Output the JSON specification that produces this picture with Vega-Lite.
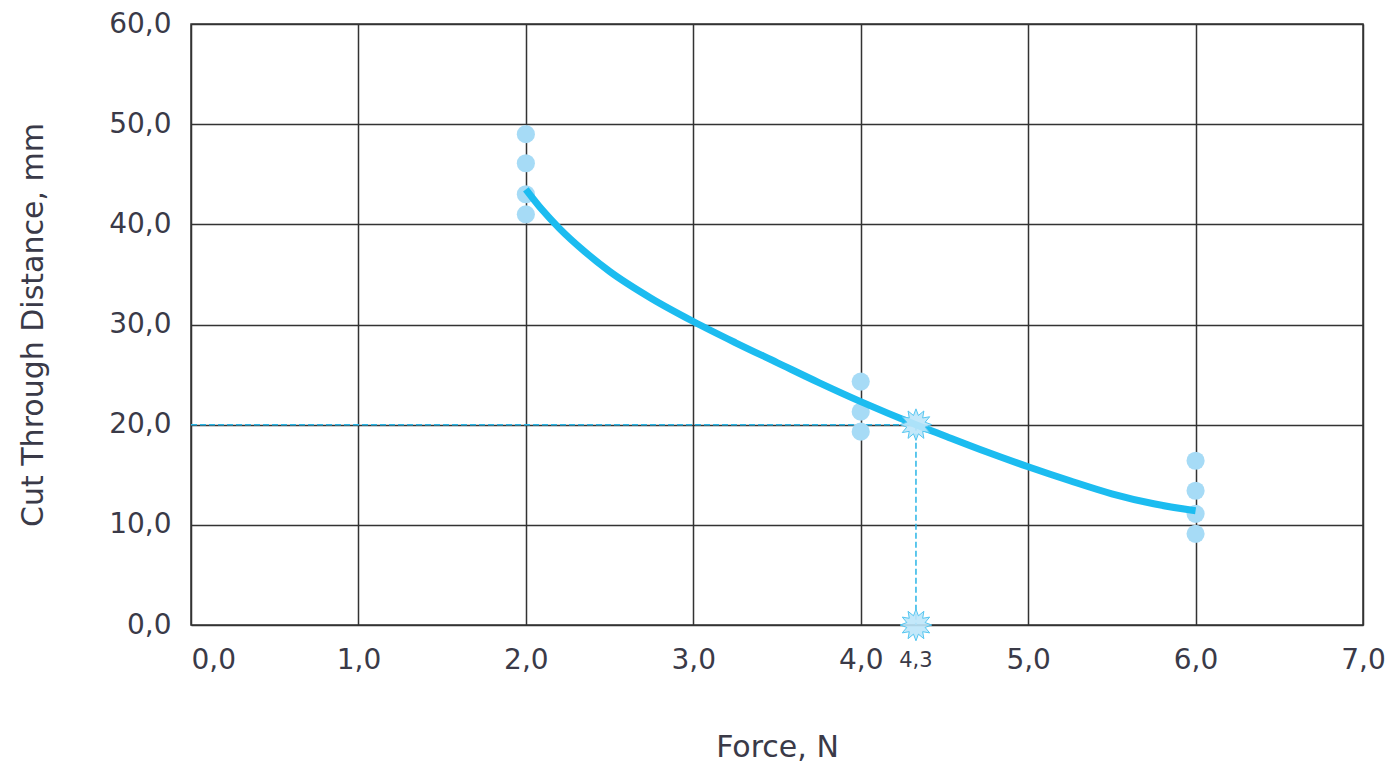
{
  "$schema": "https://vega.github.io/schema/vega-lite/v6.json",
  "width": 1172,
  "height": 601,
  "autosize": "none",
  "padding": {"left": 191, "top": 24, "right": 28, "bottom": 144},
  "background": "white",
  "config": {
    "view": {"stroke": "#333333", "strokeWidth": 1.5},
    "font": "DejaVu Sans",
    "axis": {
      "grid": true,
      "gridColor": "#333333",
      "gridWidth": 1.5,
      "gridOpacity": 1,
      "domain": false,
      "ticks": false,
      "labelFont": "DejaVu Sans",
      "labelFontSize": 28,
      "labelColor": "#3a3a48",
      "titleFont": "DejaVu Sans",
      "titleFontSize": 30,
      "titleFontWeight": "normal",
      "titleColor": "#3a3a48"
    }
  },
  "datasets": {
    "measurements": [
      {"force": 2, "distance": 49.0},
      {"force": 2, "distance": 46.1},
      {"force": 2, "distance": 43.0},
      {"force": 2, "distance": 41.0},
      {"force": 4, "distance": 24.3},
      {"force": 4, "distance": 21.3},
      {"force": 4, "distance": 19.3},
      {"force": 6, "distance": 16.4},
      {"force": 6, "distance": 13.4},
      {"force": 6, "distance": 11.1},
      {"force": 6, "distance": 9.1}
    ],
    "fit": [
      {"force": 2.0, "distance": 43.5},
      {"force": 2.1, "distance": 41.4},
      {"force": 2.2, "distance": 39.6},
      {"force": 2.35, "distance": 37.3},
      {"force": 2.5, "distance": 35.3},
      {"force": 2.75, "distance": 32.6},
      {"force": 3.0, "distance": 30.3},
      {"force": 3.25, "distance": 28.2},
      {"force": 3.5, "distance": 26.2},
      {"force": 3.75, "distance": 24.2},
      {"force": 4.0, "distance": 22.3},
      {"force": 4.33, "distance": 20.0},
      {"force": 4.5, "distance": 18.9},
      {"force": 4.75, "distance": 17.3},
      {"force": 5.0, "distance": 15.8},
      {"force": 5.25, "distance": 14.4},
      {"force": 5.5, "distance": 13.1},
      {"force": 5.75, "distance": 12.1},
      {"force": 6.0, "distance": 11.4}
    ],
    "guides": [
      {"force": 0, "force2": 4.33, "distance": 20, "distance2": 20},
      {"force": 4.33, "force2": 4.33, "distance": 20, "distance2": 0}
    ],
    "markers": [
      {"force": 4.33, "distance": 20, "label": ""},
      {"force": 4.33, "distance": 0, "label": "4,3"}
    ]
  },
  "encoding": {
    "x": {
      "field": "force",
      "type": "quantitative",
      "scale": {"domain": [0, 7], "nice": false, "zero": false},
      "axis": {
        "title": "Force, N",
        "values": [0, 1, 2, 3, 4, 5, 6, 7],
        "labelExpr": "replace(format(datum.value, '.1f'), '.', ',')",
        "labelPadding": 21,
        "labelAlign": {"condition": {"test": "datum.value == 0", "value": "left"}, "value": "center"},
        "titlePadding": 58
      }
    },
    "y": {
      "field": "distance",
      "type": "quantitative",
      "scale": {"domain": [0, 60], "nice": false},
      "axis": {
        "title": "Cut Through Distance, mm",
        "values": [0, 10, 20, 30, 40, 50, 60],
        "labelExpr": "replace(format(datum.value, '.1f'), '.', ',')",
        "labelPadding": 20,
        "titlePadding": 60
      }
    }
  },
  "layer": [
    {
      "data": {"name": "guides"},
      "mark": {"type": "rule", "color": "#2bb5e6", "strokeWidth": 1.5, "strokeDash": [6, 3]},
      "encoding": {
        "x2": {"field": "force2"},
        "y2": {"field": "distance2"}
      }
    },
    {
      "data": {"name": "measurements"},
      "mark": {"type": "point", "shape": "circle", "filled": true, "size": 330, "color": "#a6dbf6", "opacity": 1}
    },
    {
      "data": {"name": "fit"},
      "mark": {"type": "line", "color": "#1cbcf0", "strokeWidth": 7, "interpolate": "monotone", "strokeCap": "butt"}
    },
    {
      "data": {"name": "markers"},
      "mark": {
        "type": "point",
        "shape": "M1,0L0.58,0.155L0.866,0.5L0.424,0.424L0.5,0.866L0.155,0.58L0,1L-0.155,0.58L-0.5,0.866L-0.424,0.424L-0.866,0.5L-0.58,0.155L-1,0L-0.58,-0.155L-0.866,-0.5L-0.424,-0.424L-0.5,-0.866L-0.155,-0.58L0,-1L0.155,-0.58L0.5,-0.866L0.424,-0.424L0.866,-0.5L0.58,-0.155Z",
        "filled": true,
        "size": 1000,
        "fill": "#bde6fa",
        "stroke": "#55c6f0",
        "strokeWidth": 1,
        "opacity": 1,
        "fillOpacity": 0.9
      }
    },
    {
      "data": {"name": "markers"},
      "mark": {"type": "text", "dy": 36, "fontSize": 21, "color": "#3a3a48", "font": "DejaVu Sans"},
      "encoding": {"text": {"field": "label"}}
    }
  ]
}
